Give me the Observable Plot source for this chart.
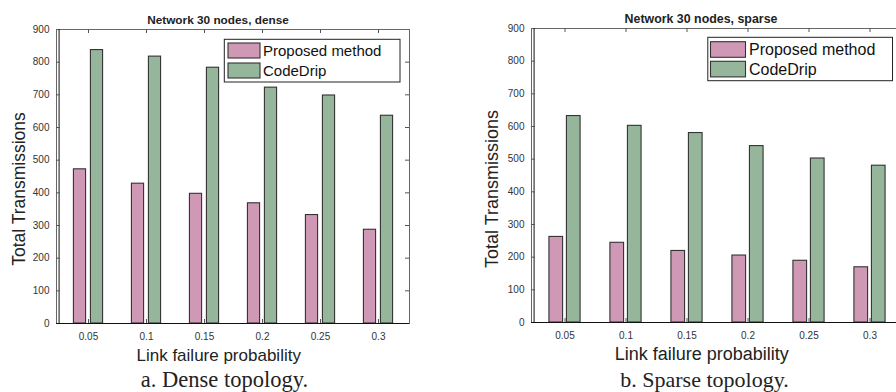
<!DOCTYPE html>
<html>
<head>
<meta charset="utf-8">
<script src="https://cdn.jsdelivr.net/npm/d3@7"></script>
<script src="https://cdn.jsdelivr.net/npm/@observablehq/plot@0.6"></script>
<style>
  html, body { margin: 0; padding: 0; background: #fff; }
  #page { position: relative; width: 896px; height: 392px; overflow: hidden; background: #fff; }
  #page > svg, #page > figure { position: absolute; top: 0; margin: 0; }
  #overlay { left: 0; pointer-events: none; }
</style>
</head>
<body>
<div id="page"></div>
<script>
// ---- data ----
const probabilities = ["0.05", "0.1", "0.15", "0.2", "0.25", "0.3"];
const seriesNames = ["Proposed method", "CodeDrip"];
const seriesColors = ["#cf99b5", "#96b69b"];
const denseProposed = [472, 428, 397, 368, 332, 287];
const denseCodeDrip = [837, 817, 783, 722, 698, 636];
const sparseProposed = [262, 244, 219, 205, 189, 169];
const sparseCodeDrip = [632, 602, 580, 540, 502, 480];
const yTicks = [0, 100, 200, 300, 400, 500, 600, 700, 800, 900];
const titles = ["Network 30 nodes, dense", "Network 30 nodes, sparse"];
const xLabel = "Link failure probability";
const yLabel = "Total Transmissions";
const captions = ["a. Dense topology.", "b. Sparse topology."];

const page = document.getElementById("page");

function makeChart(cfg, proposed, codedrip) {
  const {left, width, height, ml, mr, mt, mb, halfGap, barW} = cfg;
  const iw = width - ml - mr;
  const ih = height - mt - mb;
  const bw = iw / probabilities.length;
  const rows = [];
  probabilities.forEach((p, i) => {
    rows.push({p, s: seriesNames[0], v: proposed[i]});
    rows.push({p, s: seriesNames[1], v: codedrip[i]});
  });
  const pinkInset = {insetLeft: bw / 2 - halfGap - barW, insetRight: bw / 2 + halfGap};
  const greenInset = {insetLeft: bw / 2 + halfGap, insetRight: bw / 2 - halfGap - barW};
  const inner = yTicks.slice(1, -1);
  const chart = Plot.plot({
    width, height,
    marginLeft: ml, marginRight: mr, marginTop: mt, marginBottom: mb,
    style: {fontFamily: "'Liberation Sans', Arial, sans-serif", fontSize: "10px", color: "#333", background: "transparent", overflow: "visible"},
    x: {type: "band", domain: probabilities, padding: 0, label: null},
    y: {domain: [0, 900], label: null},
    color: {domain: seriesNames, range: seriesColors},
    marks: [
      Plot.barY(rows.filter(d => d.s === seriesNames[0]), {x: "p", y: "v", fill: "s", stroke: "#333", strokeWidth: 1.1, ...pinkInset}),
      Plot.barY(rows.filter(d => d.s === seriesNames[1]), {x: "p", y: "v", fill: "s", stroke: "#333", strokeWidth: 1.1, ...greenInset}),
      Plot.frame({stroke: "#666"}),
      Plot.ruleY([0], {stroke: "#111", strokeWidth: 1.2}),
      Plot.ruleX([probabilities[0]], {dx: -bw / 2, stroke: "#111"}),
      Plot.ruleY(inner, {insetRight: iw - 4, stroke: "#555"}),
      Plot.ruleY(inner, {insetLeft: iw - 4, stroke: "#555"}),
      Plot.ruleX(probabilities, {insetBottom: ih - 4, stroke: "#555"}),
      Plot.ruleX(probabilities, {insetTop: ih - 4, stroke: "#555"}),
      Plot.axisY(yTicks, {anchor: "left", tickSize: 0, tickPadding: 7, fill: "#333"}),
      Plot.axisX({anchor: "bottom", tickSize: 0, tickPadding: 9, fill: "#333"})
    ]
  });
  chart.style.left = left + "px";
  page.appendChild(chart);
}

makeChart({left: 0, width: 448, height: 392, ml: 56, mr: 39, mt: 29, mb: 69, halfGap: 2, barW: 13}, denseProposed, denseCodeDrip);
makeChart({left: 448, width: 466, height: 392, ml: 83, mr: 12, mt: 28, mb: 70, halfGap: 1.5, barW: 14.5}, sparseProposed, sparseCodeDrip);

// ---- overlay texts and legends ----
const svg = d3.select(page).append("svg")
  .attr("id", "overlay")
  .attr("width", 896).attr("height", 392)
  .style("font-family", "'Liberation Sans', Arial, sans-serif");

const panels = [
  {title: [218, 24, 11.8], ylab: [25, 189, 17.5], xlab: [218.7, 360.7, 17], cap: [224.5, 386.5, 22.5],
   legend: {box: [224.3, 39.3, 175.7, 42.7], sw: [228, 32, 15, 43, 63], tx: 263, base: [55.5, 75.5], fs: 15}},
  {title: [701, 22.7, 12.4], ylab: [498, 189, 18], xlab: [701.7, 360, 18], cap: [704.5, 386.5, 22],
   legend: {box: [707.8, 37.3, 184.7, 43.4], sw: [710.5, 35, 15.6, 41.7, 61.3], tx: 749, base: [55, 74.5], fs: 16}}
];

panels.forEach((pn, k) => {
  svg.append("text").attr("x", pn.title[0]).attr("y", pn.title[1])
    .attr("text-anchor", "middle").attr("font-weight", "bold").attr("font-size", pn.title[2])
    .attr("fill", "#222").text(titles[k]);
  svg.append("text").attr("transform", `translate(${pn.ylab[0]},${pn.ylab[1]}) rotate(-90)`)
    .attr("text-anchor", "middle").attr("font-size", pn.ylab[2]).attr("fill", "#222").text(yLabel);
  svg.append("text").attr("x", pn.xlab[0]).attr("y", pn.xlab[1])
    .attr("text-anchor", "middle").attr("font-size", pn.xlab[2]).attr("fill", "#222").text(xLabel);
  svg.append("text").attr("x", pn.cap[0]).attr("y", pn.cap[1])
    .attr("text-anchor", "middle").attr("font-size", pn.cap[2]).attr("fill", "#222")
    .style("font-family", "'Liberation Serif', 'Times New Roman', serif").text(captions[k]);
  const L = pn.legend;
  svg.append("rect").attr("x", L.box[0]).attr("y", L.box[1]).attr("width", L.box[2]).attr("height", L.box[3])
    .attr("fill", "#fff").attr("stroke", "#222").attr("stroke-width", 1);
  seriesNames.forEach((name, j) => {
    svg.append("rect").attr("x", L.sw[0]).attr("y", L.sw[3 + j]).attr("width", L.sw[1]).attr("height", L.sw[2])
      .attr("fill", seriesColors[j]).attr("stroke", "#333").attr("stroke-width", 1.1);
    svg.append("text").attr("x", L.tx).attr("y", L.base[j]).attr("font-size", L.fs).attr("fill", "#111").text(name);
  });
});
</script>
</body>
</html>
